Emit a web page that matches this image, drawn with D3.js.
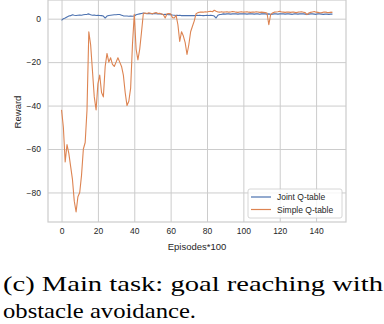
<!DOCTYPE html>
<html>
<head>
<meta charset="utf-8">
<script src="https://cdn.jsdelivr.net/npm/d3@7"></script>
<style>
  body { margin: 0; background: #fff; }
  svg { display: block; font-family: "Liberation Sans", Arial, sans-serif; }
</style>
</head>
<body>
<div id="chart"></div>
<script>
// Data (episodes*100 on x, reward on y)
const xTicks = [0, 20, 40, 60, 80, 100, 120, 140];
const yTicks = [0, -20, -40, -60, -80];
const seriesNames = ['Joint Q-table', 'Simple Q-table'];

const jointReward = [
    -0.8, 0.0, 0.3, 0.8, 1.2, 1.4, 1.8, 1.6, 1.5, 1.6,
    1.7, 1.6, 1.8, 1.9, 2.0, 2.2, 1.8, 1.6, 1.7, 1.5,
    1.6, 1.5, 1.4, 1.2, 0.3, 1.2, 1.5, 1.6, 1.7, 1.8,
    1.8, 1.9, 1.9, 1.6, 1.3, 1.2, 1.2, 1.1, 1.2, 1.1,
    1.2, 1.8, 2.0, 2.2, 2.4, 2.6, 2.4, 2.3, 2.4, 2.3,
    2.2, 2.4, 2.3, 2.2, 2.3, 2.1, 1.9, 2.0, 1.9, 1.8,
    1.9, 1.7, 1.6, 1.5, 1.5, 1.6, 1.4, 1.5, 1.4, 1.5,
    1.4, 1.4, 1.5, 1.4, 1.5, 1.5, 1.6, 1.5, 1.4, 1.5,
    1.6, 1.5, 1.6, 1.5, 1.2, 0.3, 1.6, 1.9, 2.0, 2.2,
    2.1, 2.2, 2.2, 2.1, 2.2, 2.3, 2.2, 2.1, 2.2, 2.2,
    2.3, 2.2, 2.1, 2.2, 2.3, 2.2, 2.1, 2.2, 2.2, 2.0,
    2.2, 2.3, 2.2, 2.1, 2.2, 2.0, 2.1, 2.2, 2.2, 2.1,
    2.2, 2.3, 2.2, 2.1, 2.2, 2.2, 2.1, 2.0, 2.2, 2.2,
    2.1, 2.2, 2.3, 2.2, 2.1, 2.0, 2.1, 2.2, 2.2, 2.1,
    2.0, 2.2, 2.2, 2.1, 2.0, 2.1, 2.1, 2.0, 2.1, 2.1
];

const simpleReward = [
    -42, -50, -66, -58, -62, -68, -74, -84, -89, -82,
    -80, -72, -60, -57, -42, -6, -12, -24, -36, -42,
    -30, -26, -34, -36, -22, -16, -20, -18, -21, -22,
    -20, -18, -20, -22, -26, -34, -40, -38, -32, -12,
    2.0, -14, -19, -14, -6, 2.5, 2.6, 2.4, 2.7, 2.5,
    2.3, 2.6, 2.8, 2.4, 2.5, 2.2, 1.8, 0.3, 2.3, 2.4,
    2.2, 0.5, 0.3, 1.5, -2.8, -10.5, -6, -8, -11, -16.5,
    -12, -6, -3.5, -1, 2.3, 2.8, 3.0, 3.1, 3.0, 3.2,
    3.1, 3.3, 3.4, 3.2, 3.9, 3.4, 3.1, 3.0, 3.2, 3.0,
    3.1, 3.2, 3.0, 3.1, 3.3, 3.2, 3.0, 2.9, 3.1, 3.2,
    3.0, 3.1, 3.2, 3.0, 2.9, 3.1, 3.0, 3.2, 3.1, 2.9,
    3.0, 2.9, 2.8, 2.6, -2.8, 1.9, 2.6, 3.0, 3.1, 3.2,
    3.4, 3.1, 3.0, 2.9, 3.1, 3.0, 2.9, 3.1, 3.0, 2.8,
    3.0, 3.1, 3.2, 3.0, 2.8, 1.9, 2.6, 2.9, 3.1, 3.3,
    3.0, 2.9, 2.7, 2.8, 3.0, 3.1, 2.9, 2.8, 3.0, 2.9
];

const w = 384;
const h = 324;
const plotLeft = 48, plotRight = 346, plotTop = 0, plotBottom = 222;
const colors = ['#4c72b0', '#dd8452'];
const grid = '#cccccc';

const svg = d3.select('#chart')
    .append('svg')
    .attr('width', w)
    .attr('height', h);

const episodes = d3.range(jointReward.length);

// Scales with matplotlib-style 5% margins
const xScale = d3.scaleLinear()
    .domain([-7.45, 156.45])
    .range([plotLeft, plotRight]);

const yScale = d3.scaleLinear()
    .domain([-93.6, 8.6])
    .range([plotBottom, plotTop]);

// Grid
const xAxis = d3.axisBottom(xScale).tickValues(xTicks).tickSize(-(plotBottom - plotTop)).tickPadding(6);
const yAxis = d3.axisLeft(yScale).tickValues(yTicks).tickSize(-(plotRight - plotLeft)).tickPadding(7);

const gx = svg.append('g')
    .attr('transform', `translate(0, ${plotBottom})`)
    .call(xAxis);
const gy = svg.append('g')
    .attr('transform', `translate(${plotLeft}, 0)`)
    .call(yAxis);

[gx, gy].forEach(g => {
    g.select('.domain').remove();
    g.selectAll('.tick line').attr('stroke', grid).attr('stroke-width', 1);
    g.selectAll('.tick text')
        .attr('fill', '#262626')
        .style('font-size', '8.5px');
});

// Plot frame
svg.append('rect')
    .attr('x', plotLeft)
    .attr('y', plotTop)
    .attr('width', plotRight - plotLeft)
    .attr('height', plotBottom - plotTop)
    .attr('fill', 'none')
    .attr('stroke', grid)
    .attr('stroke-width', 1.2);

// Lines
const line = d3.line()
    .x((d, i) => xScale(episodes[i]))
    .y(d => yScale(d));

[jointReward, simpleReward].forEach((s, i) => {
    svg.append('path')
        .datum(s)
        .attr('fill', 'none')
        .attr('stroke', colors[i])
        .attr('stroke-width', 1.1)
        .attr('stroke-linejoin', 'round')
        .attr('d', line);
});

// Axis labels
svg.append('text')
    .attr('x', (plotLeft + plotRight) / 2)
    .attr('y', 250)
    .attr('text-anchor', 'middle')
    .attr('fill', '#262626')
    .style('font-size', '9.5px')
    .text('Episodes*100');

svg.append('text')
    .attr('transform', 'translate(21, 112) rotate(-90)')
    .attr('text-anchor', 'middle')
    .attr('fill', '#262626')
    .style('font-size', '9.5px')
    .text('Reward');

// Legend
const legend = svg.append('g')
    .attr('transform', 'translate(248, 189)');

legend.append('rect')
    .attr('width', 94)
    .attr('height', 29)
    .attr('rx', 2)
    .attr('fill', 'white')
    .attr('fill-opacity', 0.8)
    .attr('stroke', grid)
    .attr('stroke-width', 0.8);

seriesNames.forEach((name, i) => {
    const yy = 8 + i * 12.5;
    legend.append('line')
        .attr('x1', 3)
        .attr('x2', 23)
        .attr('y1', yy)
        .attr('y2', yy)
        .attr('stroke', colors[i])
        .attr('stroke-width', 1.2);
    legend.append('text')
        .attr('x', 29)
        .attr('y', yy + 3)
        .attr('fill', '#262626')
        .style('font-size', '8.5px')
        .text(name);
});

// Caption
const caption = svg.append('g')
    .style('font-family', '"Liberation Serif", "DejaVu Serif", serif')
    .style('font-size', '21px')
    .attr('fill', '#000');

caption.append('text')
    .attr('x', 3)
    .attr('y', 291)
    .attr('textLength', 380)
    .attr('lengthAdjust', 'spacingAndGlyphs')
    .text('(c) Main task: goal reaching with');

caption.append('text')
    .attr('x', 3)
    .attr('y', 318)
    .attr('textLength', 193)
    .attr('lengthAdjust', 'spacingAndGlyphs')
    .text('obstacle avoidance.');
</script>
</body>
</html>
